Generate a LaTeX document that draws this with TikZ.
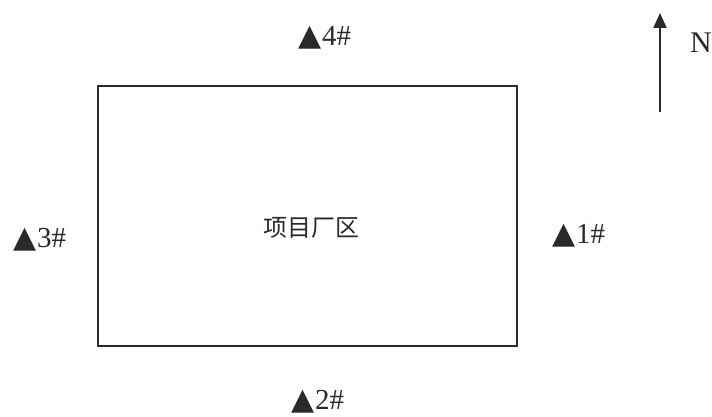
\documentclass[tikz,border=0pt]{standalone}
\usepackage{fontspec}
\setmainfont{Liberation Serif}
\newfontfamily\symfont{DejaVu Sans}
\newfontfamily\cjk{Noto Sans CJK SC}
\usetikzlibrary{arrows.meta}
\definecolor{ink}{HTML}{2A2A2A}
\newcommand{\tri}{{\symfont\fontsize{30}{30}\selectfont ▲}}
\begin{document}
\begin{tikzpicture}[x=1pt,y=-1pt,
  pt/.style={inner sep=0pt,text=ink,font=\fontsize{29}{30}\selectfont}]
\useasboundingbox (0,0) rectangle (712,417);
\draw[ink,line width=1.8pt] (98,86) rectangle (517,346);
\node[inner sep=0pt,text=ink,font=\cjk\fontsize{24}{26}\selectfont] (site) at (311,228) {项目厂区};
\node[pt] (p4) at (325,38) {\tri4\#};
\node[pt] (p3) at (40,240) {\tri3\#};
\node[pt] (p1) at (579,236) {\tri1\#};
\node[pt] (p2) at (318,402) {\tri2\#};
\coordinate (nb) at (660,112);
\coordinate (nt) at (660,13);
\draw[ink,line width=2.2pt,-{Triangle[length=15pt,width=13pt]}] (nb) -- (nt);
\node[inner sep=0pt,text=ink,font=\fontsize{30}{32}\selectfont] (n) at (701,43) {N};
\end{tikzpicture}
\end{document}
